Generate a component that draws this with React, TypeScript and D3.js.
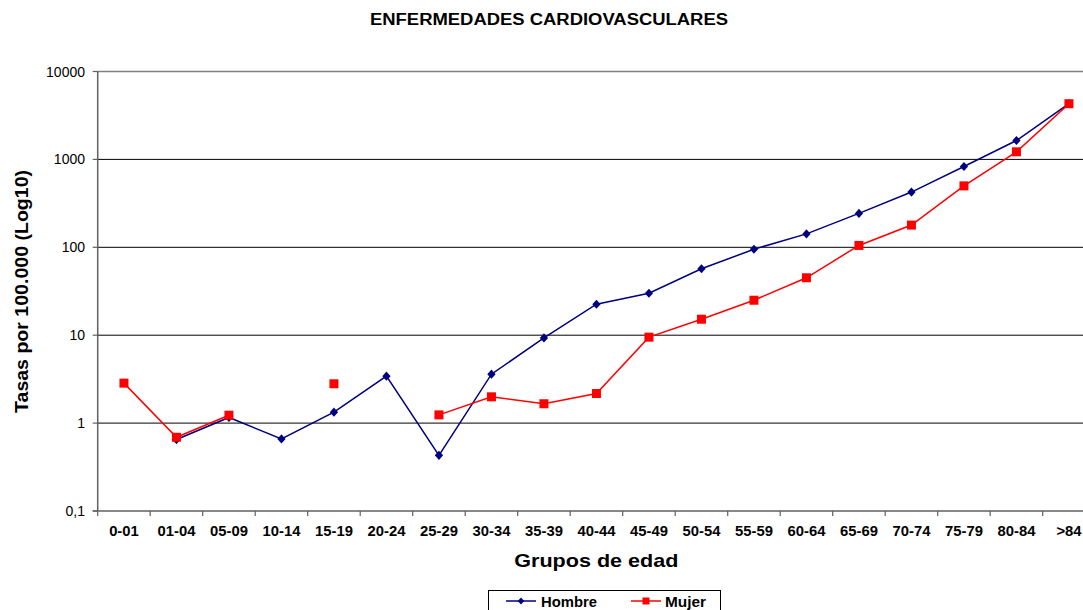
import React from "react";
import * as d3 from "d3";

const categories = ["0-01","01-04","05-09","10-14","15-19","20-24","25-29","30-34","35-39","40-44","45-49","50-54","55-59","60-64","65-69","70-74","75-79","80-84",">84"];
const hombre: (number | null)[] = [null,0.65,1.16,0.66,1.33,3.42,0.43,3.6,9.3,22.5,30,57,95,142,243,425,830,1640,4300];
const mujer: (number | null)[] = [2.85,0.69,1.23,null,2.8,null,1.24,1.99,1.66,2.17,9.5,15.2,25,45,105,179,500,1220,4300];
const yTicks = [0.1, 1, 10, 100, 1000, 10000];
const yTickLabels = ["0,1", "1", "10", "100", "1000", "10000"];

const W = 1083, H = 610;
const left = 97.7, right = 1095.2, top = 71.5, bottom = 511;
const FONT = "Liberation Sans, Arial, sans-serif";
const BLUE = "#000080";
const RED = "#FF0000";

const diamond = (s: number) => `M0,${-s}L${s * 0.9},0L0,${s}L${-s * 0.9},0Z`;

export default function App() {
  const x = d3.scaleBand<string>().domain(categories).range([left, right]).padding(0);
  const y = d3.scaleLog().domain([0.1, 10000]).range([bottom, top]);
  const cx = (i: number) => (x(categories[i]) as number) + x.bandwidth() / 2;

  const line = d3
    .line<number | null>()
    .defined((d) => d != null)
    .x((_, i) => cx(i))
    .y((d) => y(d as number));

  const bounds = categories.map((c) => x(c) as number).concat([right]);

  return (
    <svg width={W} height={H} style={{ position: "absolute", left: 0, top: 0, background: "#fff" }} fontFamily={FONT}>
      <rect x={0} y={0} width={W} height={H} fill="#fff" />
      <text x={549} y={25} textAnchor="middle" fontWeight="bold" fontSize={16} textLength={358} lengthAdjust="spacingAndGlyphs">
        ENFERMEDADES CARDIOVASCULARES
      </text>

      {/* gridlines */}
      {yTicks.slice(1, 5).map((t) => (
        <line key={t} x1={left} x2={right} y1={y(t)} y2={y(t)} stroke="#000" strokeWidth={1} />
      ))}
      <line x1={left} x2={right} y1={y(10000)} y2={y(10000)} stroke="#808080" strokeWidth={1.5} />

      {/* axes */}
      <line x1={left} x2={left} y1={top} y2={bottom} stroke="#606060" strokeWidth={1.5} />
      <line x1={left - 5} x2={right} y1={bottom} y2={bottom} stroke="#606060" strokeWidth={1.5} />
      {yTicks.map((t, i) => (
        <g key={t}>
          <line x1={left - 5} x2={left} y1={y(t)} y2={y(t)} stroke="#606060" strokeWidth={1.2} />
          <text x={85} y={y(t) + 5} textAnchor="end" fontSize={14} fill="#000">
            {yTickLabels[i]}
          </text>
        </g>
      ))}
      {bounds.map((b, i) => (
        <line key={i} x1={b} x2={b} y1={bottom} y2={bottom + 5} stroke="#606060" strokeWidth={1.2} />
      ))}
      {categories.map((c, i) => (
        <text key={c} x={cx(i)} y={536} textAnchor="middle" fontSize={14.8} fontWeight="bold" fill="#000">
          {c}
        </text>
      ))}

      {/* series */}
      <path d={line(hombre) || ""} fill="none" stroke={BLUE} strokeWidth={1.5} />
      <path d={line(mujer) || ""} fill="none" stroke={RED} strokeWidth={1.5} />
      {hombre.map((v, i) =>
        v == null ? null : (
          <path key={"h" + i} d={diamond(4.6)} transform={`translate(${cx(i)},${y(v)})`} fill={BLUE} />
        )
      )}
      {mujer.map((v, i) =>
        v == null ? null : (
          <rect key={"m" + i} x={cx(i) - 4.5} y={y(v) - 4.5} width={9} height={9} fill={RED} />
        )
      )}

      {/* axis titles */}
      <text
        transform={`translate(28,291.5) rotate(-90)`}
        textAnchor="middle"
        fontSize={18}
        fontWeight="bold"
        textLength={243}
        lengthAdjust="spacingAndGlyphs"
      >
        Tasas por 100.000 (Log10)
      </text>
      <text x={596.3} y={566.5} textAnchor="middle" fontSize={19} fontWeight="bold" textLength={164} lengthAdjust="spacingAndGlyphs">
        Grupos de edad
      </text>

      {/* legend */}
      <rect x={488.5} y={590.5} width={232} height={30} fill="#fff" stroke="#000" strokeWidth={1} />
      <line x1={506} x2={536} y1={601} y2={601} stroke={BLUE} strokeWidth={1.5} />
      <path d={diamond(3.6)} transform="translate(521,601)" fill={BLUE} />
      <text x={541} y={606.5} fontSize={15} fontWeight="bold" textLength={56} lengthAdjust="spacingAndGlyphs">Hombre</text>
      <line x1={631} x2={661} y1={601} y2={601} stroke={RED} strokeWidth={1.5} />
      <rect x={642.5} y={597.5} width={7} height={7} fill={RED} />
      <text x={665} y={606.5} fontSize={15} fontWeight="bold" textLength={41} lengthAdjust="spacingAndGlyphs">Mujer</text>
    </svg>
  );
}
